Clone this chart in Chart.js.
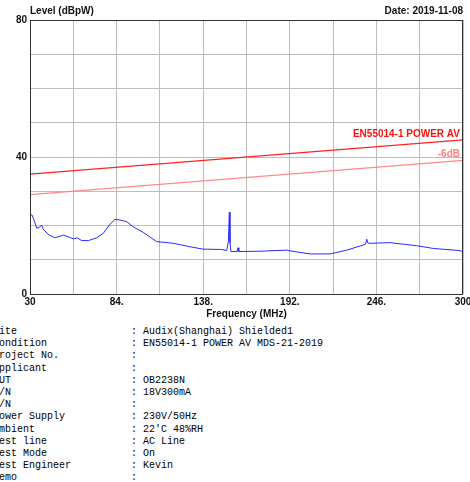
<!DOCTYPE html>
<html><head><meta charset="utf-8">
<script src="https://cdn.jsdelivr.net/npm/chart.js@4/dist/chart.umd.min.js"></script>
<style>
html,body{margin:0;padding:0;background:#fff;width:470px;height:482px;overflow:hidden;}
#wrap{position:relative;width:470px;height:320px;}
pre{position:absolute;left:-7px;top:326px;margin:0;font-family:"Liberation Mono","Courier New",monospace;font-size:10px;line-height:12.2px;color:#000;}
</style></head>
<body>
<div id="wrap"><canvas id="c"></canvas></div>
<pre id="info"></pre>
<script>
// ---- data ----
const freq  = [30,31.2,32.1,34.2,35.8,37.3,38.3,41.4,45.6,50.8,53.9,57.0,59.5,62.2,66.4,71.6,75.7,79.9,83.0,86.1,90.3,94.4,100.6,109.0,119.4,129.8,137.9,149.5,152.7,153.7,154.3,154.7,155.3,159.2,159.7,160.2,160.9,173.4,190.1,192.1,204.6,217.1,227.5,237.8,239.3,240.0,240.7,242.0,254.5,271.1,281.5,297.5,299.2,300];
const level = [23.1,23.1,22.1,19.2,19.5,20.1,18.9,17.4,16.4,17.2,16.7,16.1,16.4,15.6,15.6,16.4,17.7,20.4,21.8,21.6,21.1,19.6,18.0,15.3,14.8,13.8,13.1,13.0,12.7,15.3,23.9,15.0,12.4,12.4,13.5,12.4,12.4,12.5,12.8,12.6,11.7,11.7,12.8,14.3,14.6,16.0,14.9,14.8,15.0,14.1,13.3,12.7,12.5,12.7];
const limitFreq = [30,300];
const limitAV   = [35,45];
const limit6dB  = [29,39];
const xLabels = [30,84,138,192,246,300];
const yLabels = [0,40,80];
const infoRows = [
 ["Site","Audix(Shanghai) Shielded1"],
 ["Condition","EN55014-1 POWER AV MDS-21-2019"],
 ["Project No.",""],
 ["Applicant",""],
 ["EUT","OB2238N"],
 ["M/N","18V300mA"],
 ["S/N",""],
 ["Power Supply","230V/50Hz"],
 ["Ambient","22'C 48%RH"],
 ["Test line","AC Line"],
 ["Test Mode","On"],
 ["Test Engineer","Kevin"],
 ["Memo",""]
];
// ----
document.getElementById('info').textContent = infoRows.map(r => (r[0].padEnd(23,' ') + ': ' + r[1]).replace(/\s+$/,'')).join('\n');

const pts = (xs, ys) => xs.map((x,i)=>({x:x, y:ys[i]}));
const boldFont = {family:'"Liberation Sans", Arial, sans-serif', size:10, weight:'bold'};

const deco = {
  id:'deco',
  afterDraw(chart){
    const {ctx, chartArea:a, scales:{x,y}} = chart;
    ctx.save();
    ctx.strokeStyle = '#333'; ctx.lineWidth = 1;
    ctx.strokeRect(Math.round(a.left)+0.5, Math.round(a.top)+0.5, Math.round(a.right-a.left)-1, Math.round(a.bottom-a.top));
    ctx.font = 'bold 10px "Liberation Sans", Arial, sans-serif';
    ctx.fillStyle = '#111';
    ctx.textBaseline = 'middle';
    ctx.textAlign = 'left';
    ctx.fillText('Level (dBpW)', a.left, a.top - 9);
    ctx.textAlign = 'right';
    ctx.fillText('Date: 2019-11-08', a.right, a.top - 9);
    ctx.fillStyle = '#ff1010';
    ctx.fillText('EN55014-1 POWER AV', a.right - 3, y.getPixelForValue(limitAV[1]) - 6);
    ctx.fillStyle = '#ff8080';
    ctx.fillText('-6dB', a.right - 3, y.getPixelForValue(limit6dB[1]) - 6);
    ctx.restore();
  }
};

new Chart(document.getElementById('c'), {
  type:'scatter',
  data:{datasets:[
    {data:pts(freq,level), showLine:true, borderColor:'#2a2aff', borderWidth:1, pointRadius:0, tension:0},
    {data:pts(limitFreq,limitAV), showLine:true, borderColor:'#ff2020', borderWidth:1.3, pointRadius:0},
    {data:pts(limitFreq,limit6dB), showLine:true, borderColor:'#ff8a8a', borderWidth:1.3, pointRadius:0}
  ]},
  plugins:[deco],
  options:{
    responsive:true, maintainAspectRatio:false, animation:false,
    layout:{padding:{top:20,right:7,left:0,bottom:0}},
    plugins:{legend:{display:false}, tooltip:{enabled:false}},
    scales:{
      x:{type:'linear', min:30, max:300,
        afterFit(s){ s.height = 26; s.paddingLeft = 0; s.paddingRight = 0; },
        ticks:{stepSize:27, autoSkip:false, maxRotation:0, padding:2, color:'#111', font:boldFont,
          callback:(v)=> xLabels.includes(v) ? (v===30||v===300 ? String(v) : v + '.') : ''},
        grid:{color:'#bdbdbd', drawTicks:false, lineWidth:1},
        border:{display:false},
        title:{display:true, text:'Frequency (MHz)', color:'#111', font:boldFont, padding:{top:0,bottom:0}}
      },
      y:{min:0, max:80,
        afterFit(s){ s.width = 30; s.paddingTop = 0; s.paddingBottom = 0; },
        ticks:{stepSize:10, autoSkip:false, padding:3, color:'#111', font:boldFont,
          callback:(v)=> yLabels.includes(v) ? String(v) : ''},
        grid:{color:'#bdbdbd', drawTicks:false, lineWidth:1},
        border:{display:false}
      }
    }
  }
});
</script>
</body></html>
